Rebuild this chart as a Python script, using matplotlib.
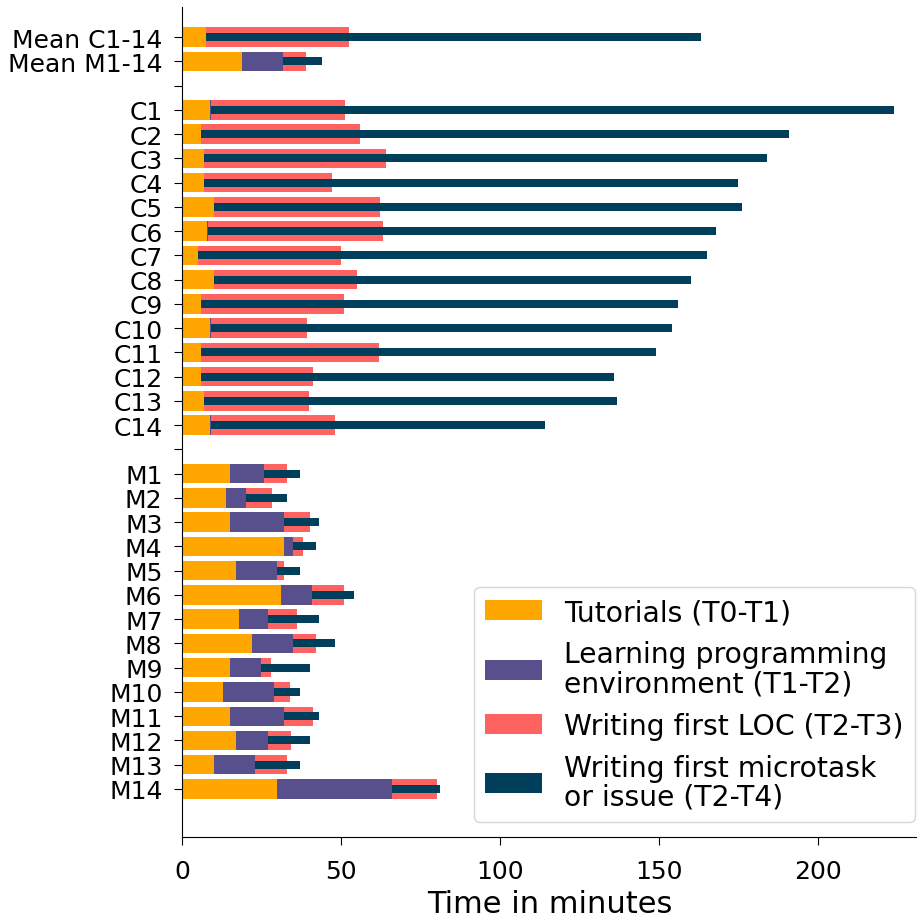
import numpy as np
import matplotlib
matplotlib.use('Agg')
import matplotlib.pyplot as plt

# %% DATA (minutes after T0)

c_names = ['C%d' % i for i in range(1, 15)]
m_names = ['M%d' % i for i in range(1, 15)]

# end of tutorials
c_t1 = [8.8, 6.0, 6.9, 6.9, 10.0, 7.9, 5.0, 10.0, 6.0, 8.8, 6.0, 6.0, 6.9, 8.8]
# end of learning environment
c_t2 = [9.0, 6.0, 6.9, 6.9, 10.0, 8.1, 5.0, 10.0, 6.0, 9.0, 6.0, 6.0, 6.9, 9.0]
# first line of code
c_t3 = [51.3, 56.0, 64.2, 47.2, 62.3, 63.2, 50.0, 55.1, 51.0, 39.3, 62.0, 41.2, 40.0, 48.1]
# first microtask / issue
c_t4 = [224.0, 191.0, 184.1, 175.0, 176.2, 168.0, 165.2, 160.2, 156.1, 154.2, 149.2, 135.9, 136.9, 114.2]

m_t1 = [15.1, 13.8, 15.1, 32.1, 17.0, 31.2, 17.9, 22.0, 15.1, 12.9, 15.1, 17.0, 10.1, 29.9]
m_t2 = [25.8, 20.1, 32.1, 34.9, 29.9, 40.9, 27.1, 34.9, 24.9, 28.9, 32.1, 27.1, 23.0, 66.1]
m_t3 = [33.0, 28.3, 40.3, 38.1, 32.1, 51.0, 36.2, 42.2, 28.0, 34.0, 41.2, 34.3, 33.0, 80.2]
m_t4 = [37.1, 33.0, 43.1, 42.2, 37.1, 54.1, 43.1, 48.1, 40.3, 37.1, 43.1, 40.3, 37.1, 81.2]

mean_names = ['Mean C1-14', 'Mean M1-14']
mean_t1 = [7.5, 18.9]
mean_t2 = [7.6, 31.8]
mean_t3 = [52.5, 39.0]
mean_t4 = [163.3, 44.1]

legend_labels = ['Tutorials (T0-T1)',
                 'Learning programming\nenvironment (T1-T2)',
                 'Writing first LOC (T2-T3)',
                 'Writing first microtask\nor issue (T2-T4)']
colors = ['#ffa600', '#58508d', '#ff6361', '#003f5c']

# %% ROWS: means, gap, C, gap, M

labels = mean_names + [''] + c_names + [''] + m_names
nan = [np.nan]
t1 = np.array(mean_t1 + nan + c_t1 + nan + m_t1)
t2 = np.array(mean_t2 + nan + c_t2 + nan + m_t2)
t3 = np.array(mean_t3 + nan + c_t3 + nan + m_t3)
t4 = np.array(mean_t4 + nan + c_t4 + nan + m_t4)
y = np.arange(len(labels))

# %% PLOT

plt.rcParams['font.family'] = 'DejaVu Sans'
fig = plt.figure(figsize=(9.17, 9.2), dpi=100)
ax = fig.add_axes([182/917, 82/920, 1 - 182/917, 830/920])

ax.barh(y, t1, height=0.8, color=colors[0], label=legend_labels[0])
ax.barh(y, t2 - t1, left=t1, height=0.8, color=colors[1], label=legend_labels[1])
ax.barh(y, t3 - t2, left=t2, height=0.8, color=colors[2], label=legend_labels[2])
ax.barh(y, t4 - t2, left=t2, height=0.33, color=colors[3], label=legend_labels[3])

ax.set_yticks(y)
ax.set_yticklabels(labels, fontsize=18)
ax.set_ylim(32.98, -1.24)
ax.set_xlim(0, 231.3)
ax.set_xticks([0, 50, 100, 150, 200])
ax.tick_params(axis='x', labelsize=18, length=6, pad=10)
ax.tick_params(axis='y', length=6, pad=8)
ax.set_xlabel('Time in minutes', fontsize=22)

ax.spines['top'].set_visible(False)
ax.spines['right'].set_visible(False)

leg = ax.legend(loc='lower right', fontsize=20.3, borderaxespad=0,
                bbox_to_anchor=(915/917, 97/920), bbox_transform=fig.transFigure)
for t in leg.get_texts():
    t.set_linespacing(1.05)

fig.savefig('out.png', dpi=100)
